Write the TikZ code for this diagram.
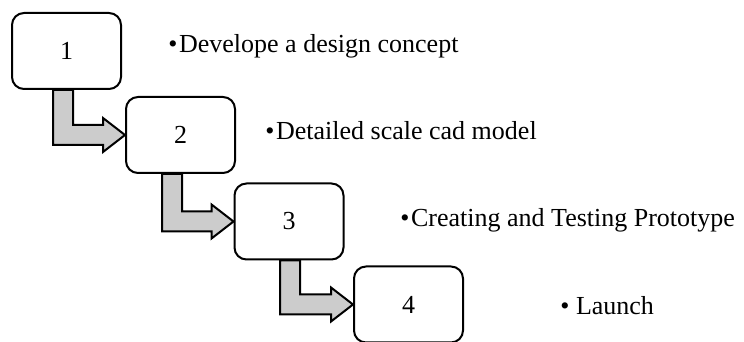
\documentclass[tikz,border=0pt]{standalone}
\usepackage{fontspec}
\setmainfont{Liberation Serif}
\usetikzlibrary{calc}
\definecolor{shaftgray}{RGB}{204,204,204}

\newcommand{\bentarrow}[3]{%
  \draw[bentarrow] let \p1=(#1.south), \p2=(#2.west) in
    ({\x1+(#3)-5pt},\y1) -- ({\x1+(#3)+5pt},\y1) -- ({\x1+(#3)+5pt},{\y2+5pt})
    -- ({\x2-11pt},{\y2+5pt}) -- ({\x2-11pt},{\y2+8.5pt}) -- (\x2,\y2)
    -- ({\x2-11pt},{\y2-8.5pt}) -- ({\x2-11pt},{\y2-5pt})
    -- ({\x1+(#3)-5pt},{\y2-5pt}) -- cycle;}
\newcommand{\stepbullet}{•\kern0.8pt}

\begin{document}
\begin{tikzpicture}[x=0.5pt,y=0.5pt,
    stepbox/.style={draw,line width=1pt,rounded corners=6pt,minimum width=54.5pt,
      minimum height=38pt,inner sep=0pt,font=\fontsize{13}{15}\selectfont},
    steptext/.style={anchor=base west,inner sep=0pt,font=\fontsize{13}{15}\selectfont},
    bentarrow/.style={draw,line width=1pt,fill=shaftgray,line join=miter}]
            \useasboundingbox (0,0) rectangle (744,342);
            \node[stepbox] (b1) at (66.5,291) {1};
            \node[stepbox] (b2) at (180.5,207) {2};
            \node[stepbox] (b3) at (289,120.5) {3};
            \node[stepbox] (b4) at (408.5,37.5) {4};
            \bentarrow{b1}{b2}{-1.75pt}
            \bentarrow{b2}{b3}{-4.25pt}
            \bentarrow{b3}{b4}{0.5pt}
            \node[steptext] (t1) at (168,289) {\stepbullet Develope a design concept};
            \node[steptext] (t2) at (265,202) {\stepbullet Detailed scale cad model};
            \node[steptext] (t3) at (400,115) {\stepbullet Creating and Testing Prototype};
            \node[steptext] (t4) at (560,27) {• Launch};
        \end{tikzpicture}
\end{document}
